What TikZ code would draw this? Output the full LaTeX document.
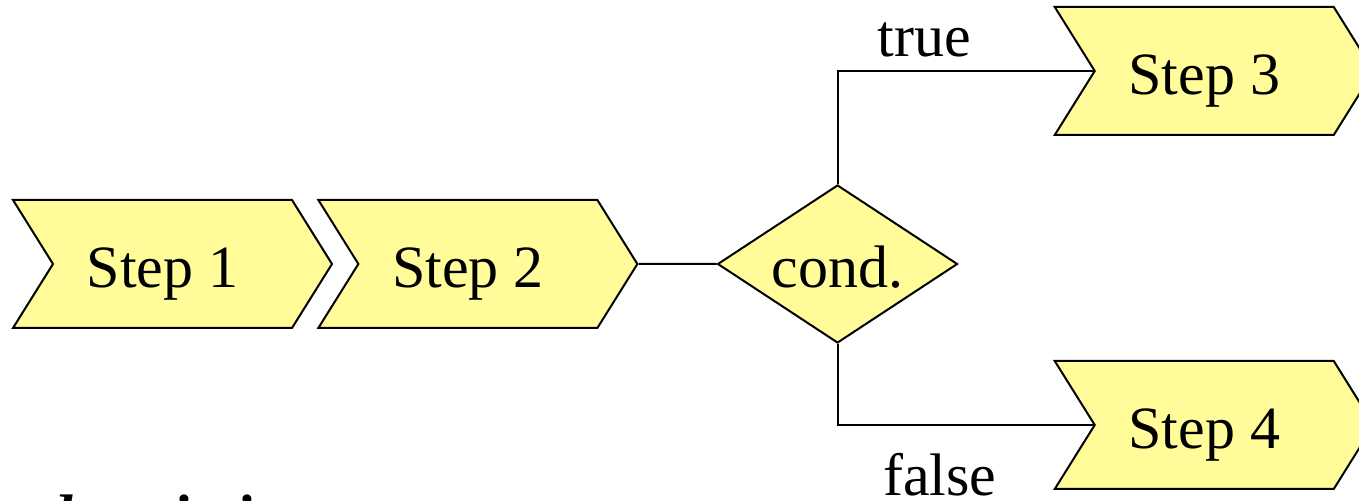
\documentclass[tikz,border=0pt]{standalone}
\usepackage{fontspec}
\setmainfont{Liberation Serif}
\usetikzlibrary{positioning,shapes.geometric,shapes.symbols}
\definecolor{stepfill}{RGB}{255,252,153}
\tikzset{
  stepbox/.style={draw, signal, signal from=west, signal to=east, signal pointer angle=116,
    minimum width=79.75pt, minimum height=32pt, inner sep=0pt, text height=12pt, text depth=0pt,
    fill=stepfill, line width=0.5pt, font=\fontsize{15}{18}\selectfont,
    execute at end node={\kern5pt}},
  decision/.style={draw, diamond, aspect=1.5, minimum width=60pt, minimum height=39.5pt,
    inner sep=0pt, text height=12pt, text depth=0pt,
    fill=stepfill, line width=0.5pt, font=\fontsize{15}{18}\selectfont},
  link/.style={line width=0.5pt},
  lbl/.style={font=\fontsize{15}{18}\selectfont},
}
\begin{document}
\begin{tikzpicture}

\clip (-43.125pt,-59.25pt) rectangle (296.625pt,66pt);

\node[stepbox] (step1) {Step 1};
\node[stepbox, right=6pt of step1] (step2) {Step 2};
\node[decision, right=19.5pt of step2] (cond) {cond.};
\node[stepbox, right=64pt of cond.north, yshift=28.25pt] (step3) {Step 3};
\node[stepbox, right=64pt of cond.south, yshift=-20.25pt] (step4) {Step 4};

\node[lbl, anchor=base west, font=\fontsize{15}{18}\selectfont\bfseries\itshape]
  at (step1.south west) [xshift=4.25pt, yshift=-52pt] (desc) {description};

\draw[link] (step2) -- (cond);
\draw[link] (cond.north) |- (step3.west) node[lbl, pos=0.67, above] {true};
\draw[link] (cond.south) |- (step4.west) node[lbl, pos=0.70, below=3.5pt] {false};

\end{tikzpicture}
\end{document}
